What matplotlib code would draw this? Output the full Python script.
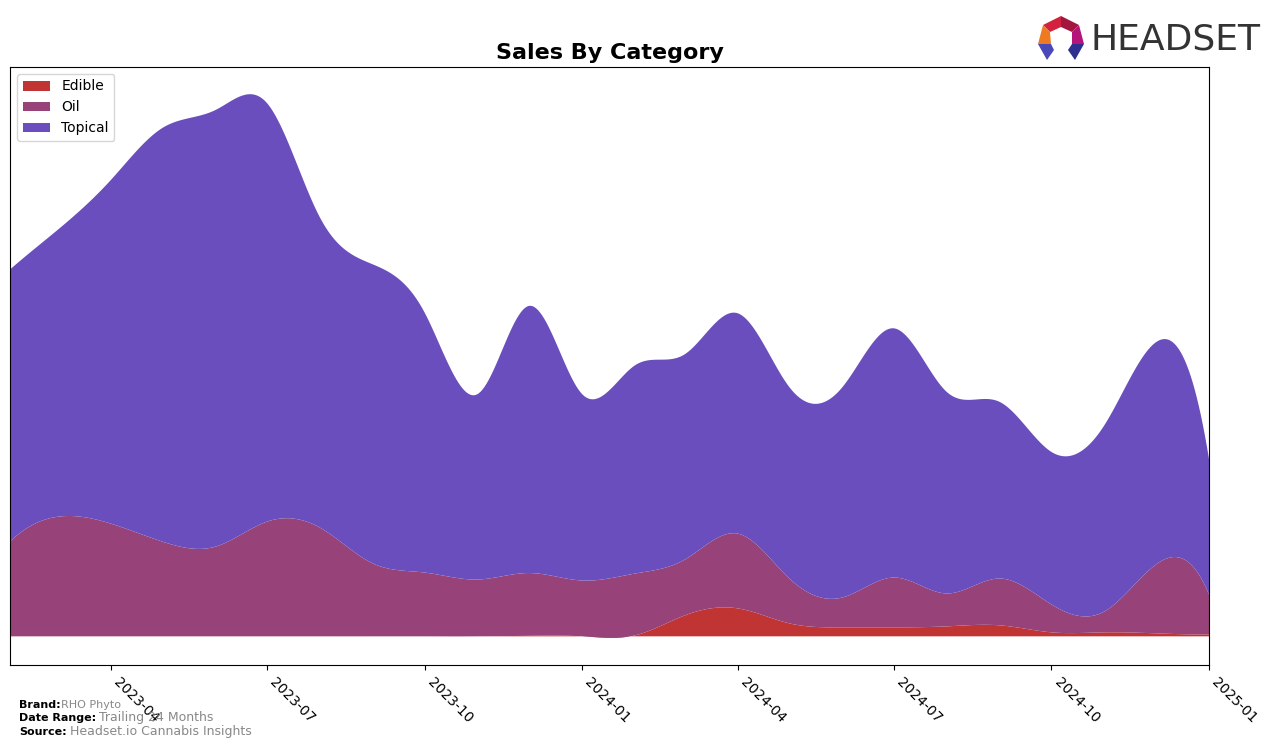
import numpy as np
import pandas as pd
import matplotlib
matplotlib.use("Agg")
import matplotlib.pyplot as plt
import matplotlib.dates as mdates
from matplotlib.patches import Polygon

# ---------------- data ----------------
months = ['2023-02', '2023-03', '2023-04', '2023-05', '2023-06', '2023-07',
          '2023-08', '2023-09', '2023-10', '2023-11', '2023-12', '2024-01',
          '2024-02', '2024-03', '2024-04', '2024-05', '2024-06', '2024-07',
          '2024-08', '2024-09', '2024-10', '2024-11', '2024-12', '2025-01']
categories = ['Edible', 'Oil', 'Topical']
edible = [0, 0, 0, 0, 0, 0, 0, 0, 0, 0, 0.5, 0,
          1, 21, 28, 13, 9, 9, 10, 11, 4, 4, 3, 2]
oil = [95, 120, 113, 95, 90, 115, 109, 73, 64, 57, 63, 56,
       62, 56, 75, 45, 30, 50, 33, 47, 28, 21, 69, 40]
topical = [273, 288, 345, 415, 438, 420, 311, 300, 261, 186, 268, 187,
           209, 206, 221, 192, 211, 250, 202, 177, 153, 187, 223, 136]
tick_labels = ['2023-04', '2023-07', '2023-10', '2024-01',
               '2024-04', '2024-07', '2024-10', '2025-01']
colors = ['#c13434', '#974379', '#6a4ebd']


# ------------- smoothing (not-a-knot cubic spline) -------------
def cubic_spline(x, y, xs):
    x = np.asarray(x, float)
    y = np.asarray(y, float)
    n = len(x)
    h = np.diff(x)
    A = np.zeros((n, n))
    b = np.zeros(n)
    A[0, 0] = h[1]
    A[0, 1] = -(h[0] + h[1])
    A[0, 2] = h[0]
    A[-1, -3] = h[-1]
    A[-1, -2] = -(h[-2] + h[-1])
    A[-1, -1] = h[-2]
    for i in range(1, n - 1):
        A[i, i - 1] = h[i - 1]
        A[i, i] = 2 * (h[i - 1] + h[i])
        A[i, i + 1] = h[i]
        b[i] = 6 * ((y[i + 1] - y[i]) / h[i] - (y[i] - y[i - 1]) / h[i - 1])
    M = np.linalg.solve(A, b)
    idx = np.clip(np.searchsorted(x, xs) - 1, 0, n - 2)
    x0, x1 = x[idx], x[idx + 1]
    hh = x1 - x0
    out = (M[idx] * (x1 - xs) ** 3 / (6 * hh)
           + M[idx + 1] * (xs - x0) ** 3 / (6 * hh)
           + (y[idx] / hh - M[idx] * hh / 6) * (x1 - xs)
           + (y[idx + 1] / hh - M[idx + 1] * hh / 6) * (xs - x0))
    return out


dates = pd.to_datetime(months)
xnum = mdates.date2num(dates)
xs = np.linspace(xnum[0], xnum[-1], 600)
series = [cubic_spline(xnum, s, xs) for s in (edible, oil, topical)]

# ---------------- figure ----------------
W, H = 1276, 748
fig = plt.figure(figsize=(W / 100, H / 100), dpi=100)
ax = fig.add_axes([10 / W, 1 - 665 / H, (1209 - 10) / W, (665 - 67) / H])

ax.stackplot(mdates.num2date(xs), *series, labels=categories, colors=colors)
ax.set_xlim(dates[0], dates[-1])
ax.set_yticks([])
ticks = pd.to_datetime(tick_labels)
ax.set_xticks(ticks)
ax.set_xticklabels(tick_labels, rotation=-45, ha='left', fontsize=10)
ax.set_title('Sales By Category', fontsize=16, fontweight='bold', pad=6)
ax.legend(loc='upper left', fontsize=10)

# ---------------- footer ----------------
fig.text(19 / W, 1 - 705 / H, 'Brand:', fontsize=8, fontweight='bold', va='center')
fig.text(61 / W, 1 - 705 / H, 'RHO Phyto', fontsize=8, color='#888888', va='center')
fig.text(19 / W, 1 - 718 / H, 'Date Range:', fontsize=8, fontweight='bold', va='center')
fig.text(99 / W, 1 - 718 / H, 'Trailing 24 Months', fontsize=9, color='#888888', va='center')
fig.text(19 / W, 1 - 732 / H, 'Source:', fontsize=8, fontweight='bold', va='center')
fig.text(70 / W, 1 - 732 / H, 'Headset.io Cannabis Insights', fontsize=9, color='#888888',
         va='center')

# ---------------- logo ----------------
def px(pts):
    return [(x / W, 1 - y / H) for x, y in pts]

logo_parts = [
    ([(1043, 25), (1061, 16), (1061, 27), (1050, 32)], '#d4213d'),
    ([(1061, 16), (1079, 25), (1072, 32), (1061, 27)], '#a3163f'),
    ([(1043, 25), (1050, 32), (1051, 44), (1038, 44)], '#f07a22'),
    ([(1079, 25), (1084, 44), (1072, 44), (1072, 32)], '#b5157a'),
    ([(1038, 44), (1051, 44), (1054, 50), (1047, 60)], '#4a47b8'),
    ([(1084, 44), (1072, 44), (1068, 50), (1075, 60)], '#2e2f8f'),
]
for pts, c in logo_parts:
    fig.add_artist(Polygon(px(pts), closed=True, facecolor=c, edgecolor='none',
                           transform=fig.transFigure))
fig.text(1260 / W, 1 - 39 / H, 'HEADSET', fontsize=26, color='#333333',
         family='DejaVu Sans', va='center', ha='right')

fig.savefig('out.png', dpi=100)
